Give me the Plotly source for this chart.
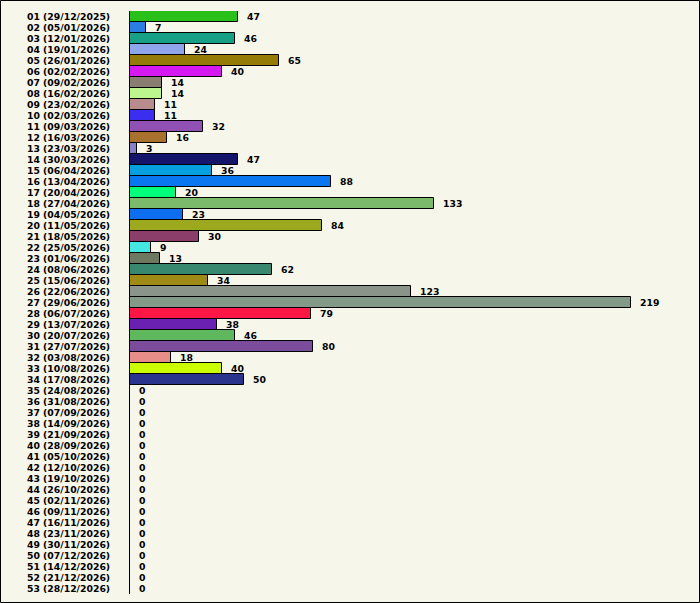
import plotly.graph_objects as go

weeks = [
    "01 (29/12/2025)", "02 (05/01/2026)", "03 (12/01/2026)", "04 (19/01/2026)",
    "05 (26/01/2026)", "06 (02/02/2026)", "07 (09/02/2026)", "08 (16/02/2026)",
    "09 (23/02/2026)", "10 (02/03/2026)", "11 (09/03/2026)", "12 (16/03/2026)",
    "13 (23/03/2026)", "14 (30/03/2026)", "15 (06/04/2026)", "16 (13/04/2026)",
    "17 (20/04/2026)", "18 (27/04/2026)", "19 (04/05/2026)", "20 (11/05/2026)",
    "21 (18/05/2026)", "22 (25/05/2026)", "23 (01/06/2026)", "24 (08/06/2026)",
    "25 (15/06/2026)", "26 (22/06/2026)", "27 (29/06/2026)", "28 (06/07/2026)",
    "29 (13/07/2026)", "30 (20/07/2026)", "31 (27/07/2026)", "32 (03/08/2026)",
    "33 (10/08/2026)", "34 (17/08/2026)", "35 (24/08/2026)", "36 (31/08/2026)",
    "37 (07/09/2026)", "38 (14/09/2026)", "39 (21/09/2026)", "40 (28/09/2026)",
    "41 (05/10/2026)", "42 (12/10/2026)", "43 (19/10/2026)", "44 (26/10/2026)",
    "45 (02/11/2026)", "46 (09/11/2026)", "47 (16/11/2026)", "48 (23/11/2026)",
    "49 (30/11/2026)", "50 (07/12/2026)", "51 (14/12/2026)", "52 (21/12/2026)",
    "53 (28/12/2026)",
]

counts = [
    47, 7, 46, 24, 65, 40, 14, 14, 11, 11, 32, 16, 3, 47, 36, 88, 20, 133,
    23, 84, 30, 9, 13, 62, 34, 123, 219, 79, 38, 46, 80, 18, 40, 50,
    0, 0, 0, 0, 0, 0, 0, 0, 0, 0, 0, 0, 0, 0, 0, 0, 0, 0, 0,
]

bar_colors = [
    "#2ac01a", "#2a7ee0", "#17a086", "#8fa6ea", "#947a06", "#d41af0",
    "#8a7e72", "#bcf58e", "#b88c8c", "#3c2ef0", "#9150b4", "#a8712e",
    "#8a80c8", "#14146a", "#06a0e0", "#0a76f0", "#00ff7a", "#7aba6a",
    "#0e6ef0", "#9ca81e", "#8c3e6a", "#44e8e0", "#6e7860", "#388870",
    "#a08a16", "#8a9488", "#849a88", "#fe1644", "#6a20b0", "#60b85e",
    "#7c4c9c", "#e88e88", "#ccfe02", "#2a348c",
] + ["#888888"] * 19

W, H = 700, 603
ML, MR, MT, MB = 130, 10, 11, 9
pw, ph = W - ML - MR, H - MT - MB
# small enough that one row of text fits in one 11px bar row
font = dict(family="DejaVu Sans", size=9.3, color="black", weight="bold")

fig = go.Figure(go.Bar(
    x=counts,
    y=weeks,
    orientation="h",
    marker=dict(color=bar_colors, line=dict(color="black", width=1)),
    text=["  %d" % c for c in counts],
    textposition="outside",
    textfont=font,
    constraintext="none",
    cliponaxis=False,
    hoverinfo="skip",
))

fig.update_layout(
    width=W, height=H,
    margin=dict(l=ML, r=MR, t=MT, b=MB, autoexpand=False),
    paper_bgcolor="#f6f6eb",
    plot_bgcolor="#f6f6eb",
    bargap=0,
    showlegend=False,
    font=font,
    xaxis=dict(visible=False, range=[0, pw / 2.288], fixedrange=True),
    yaxis=dict(
        autorange="reversed",
        automargin=False,
        tickmode="array", tickvals=weeks, ticktext=weeks,
        showline=True, linecolor="black", linewidth=1,
        showgrid=False, zeroline=False, ticks="",
        ticklabelstandoff=17,
        tickfont=font,
        fixedrange=True,
    ),
    # outer frame round the whole picture
    shapes=[dict(
        type="rect", xref="paper", yref="paper",
        x0=(-ML + 0.5) / pw, x1=(pw + MR - 0.5) / pw,
        y0=(-MB + 0.5) / ph, y1=(ph + MT - 0.5) / ph,
        line=dict(color="black", width=1),
    )],
)

fig.write_html(
    "out.html",
    config=dict(displayModeBar=False),
    post_script="document.body.style.margin='0';",
)
